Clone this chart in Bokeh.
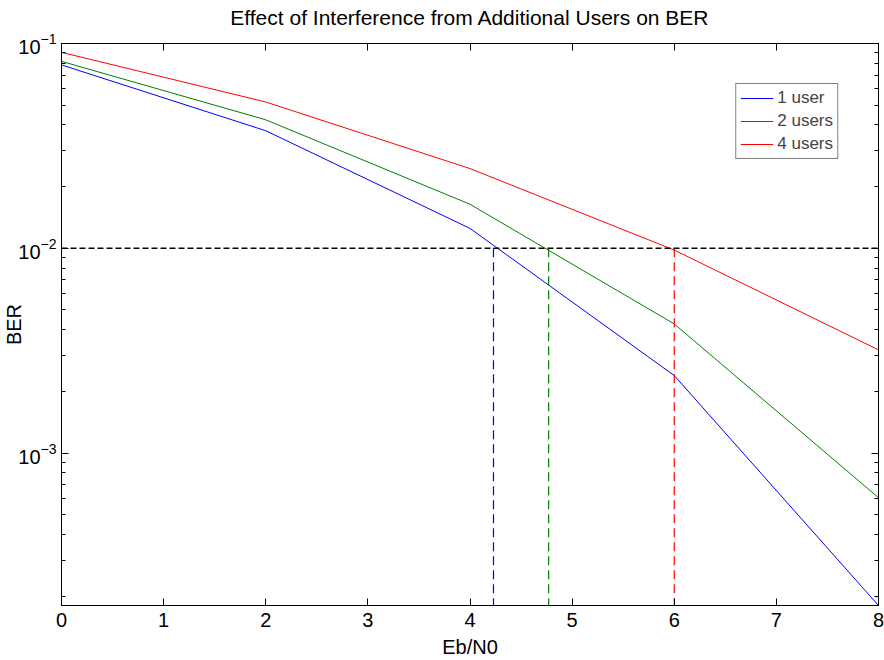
from bokeh.plotting import figure
from bokeh.models import (Range1d, LinearAxis, LogAxis, FixedTicker, LogTicker,
                          LogTickFormatter, CustomJSTickFormatter, Legend, LegendItem, Span)
from bokeh.embed import file_html
from bokeh.resources import INLINE

# ---- data ----
ebn0 = [0, 2, 4, 6, 8]
ber_1user = [0.0786, 0.0375, 0.0125, 0.00239, 0.00018]
ber_2users = [0.0818, 0.0424, 0.0164, 0.00427, 0.000605]
ber_4users = [0.0905, 0.0518, 0.0245, 0.0098, 0.00319]
series_labels = ["1 user", "2 users", "4 users"]
series_colors = ["#0000FF", "#008000", "#FF0000"]
target_ber = 0.01
crossing_ebn0 = [4.23, 4.77, 6.0]
x_ticks = [0, 1, 2, 3, 4, 5, 6, 7, 8]
y_tick_values = [0.001, 0.01, 0.1]
title_text = "Effect of Interference from Additional Users on BER"

FONT = "Liberation Sans"
y_min = min(ber_1user)
y_max = max(y_tick_values)

p = figure(width=884, height=660, output_backend="svg", toolbar_location=None,
           y_axis_type="log",
           x_range=Range1d(min(x_ticks), max(x_ticks)),
           y_range=Range1d(y_min, y_max),
           min_border_left=59, min_border_right=6, min_border_top=43,
           min_border_bottom=50)

p.background_fill_color = "white"
p.border_fill_color = "white"
p.outline_line_color = "black"
p.outline_line_width = 1
p.xgrid.visible = False
p.ygrid.visible = False

blank = CustomJSTickFormatter(code="return ''")

# bottom x axis
xa = p.xaxis[0]
xa.ticker = FixedTicker(ticks=x_ticks)
xa.axis_label = "Eb/N0"
xa.axis_label_text_font = FONT
xa.axis_label_text_font_size = "20px"
xa.axis_label_text_font_style = "normal"
xa.axis_label_standoff = 6
xa.major_label_text_font = FONT
xa.major_label_text_font_size = "20px"
xa.major_label_standoff = 7
xa.major_tick_in = 7
xa.major_tick_out = 0
xa.minor_tick_line_color = None
xa.axis_line_color = "black"
xa.major_tick_line_color = "black"
xa.major_label_text_color = "black"
xa.axis_label_text_color = "black"

# left y axis
ya = p.yaxis[0]
ya.ticker = LogTicker(num_minor_ticks=10)
ya.formatter = LogTickFormatter()
ya.axis_label = "BER"
ya.axis_label_text_font = FONT
ya.axis_label_text_font_size = "20px"
ya.axis_label_text_font_style = "normal"
ya.axis_label_text_color = "black"
ya.axis_label_standoff = -10
ya.major_label_text_font = FONT
ya.major_label_text_font_size = "20px"
ya.major_label_text_color = "black"
ya.major_label_standoff = 5
ya.major_tick_in = 7
ya.major_tick_out = 0
ya.minor_tick_in = 4
ya.minor_tick_out = 0
ya.axis_line_color = "black"
ya.major_tick_line_color = "black"
ya.minor_tick_line_color = "black"

# mirrored top axis, carrying the chart title as its label
top_axis = LinearAxis(ticker=FixedTicker(ticks=x_ticks), formatter=blank,
                      major_tick_in=7, major_tick_out=0, minor_tick_line_color=None,
                      major_label_standoff=0, axis_line_color="black",
                      major_tick_line_color="black",
                      axis_label=title_text, axis_label_text_font=FONT,
                      axis_label_text_font_size="21px", axis_label_text_font_style="normal",
                      axis_label_text_color="black", axis_label_standoff=15)
p.add_layout(top_axis, "above")
right_axis = LogAxis(ticker=LogTicker(num_minor_ticks=10), formatter=blank,
                     major_tick_in=7, major_tick_out=0, minor_tick_in=4, minor_tick_out=0,
                     major_label_standoff=0, axis_line_color="black",
                     major_tick_line_color="black", minor_tick_line_color="black")
p.add_layout(right_axis, "right")

# series
renderers = []
for ys, col in zip([ber_1user, ber_2users, ber_4users], series_colors):
    r = p.line(ebn0, ys, line_color=col, line_width=1)
    renderers.append(r)

# threshold lines
p.add_layout(Span(location=target_ber, dimension="width", line_color="black",
                  line_dash="6 3", line_width=1.5))
for xc, col in zip(crossing_ebn0, series_colors):
    p.line([xc, xc], [target_ber, y_min], line_color=col, line_dash="9 5", line_width=1.2)

legend = Legend(items=[LegendItem(label=lab, renderers=[r])
                       for lab, r in zip(series_labels, renderers)],
                location="top_right", margin=40, padding=4, spacing=3,
                label_text_font=FONT, label_text_font_size="17px",
                label_height=20, glyph_height=20, glyph_width=33,
                label_standoff=4, border_line_color="black", border_line_width=1,
                background_fill_color="white", background_fill_alpha=1)
p.add_layout(legend, "center")

open("out.html", "w").write(file_html(p, INLINE))
